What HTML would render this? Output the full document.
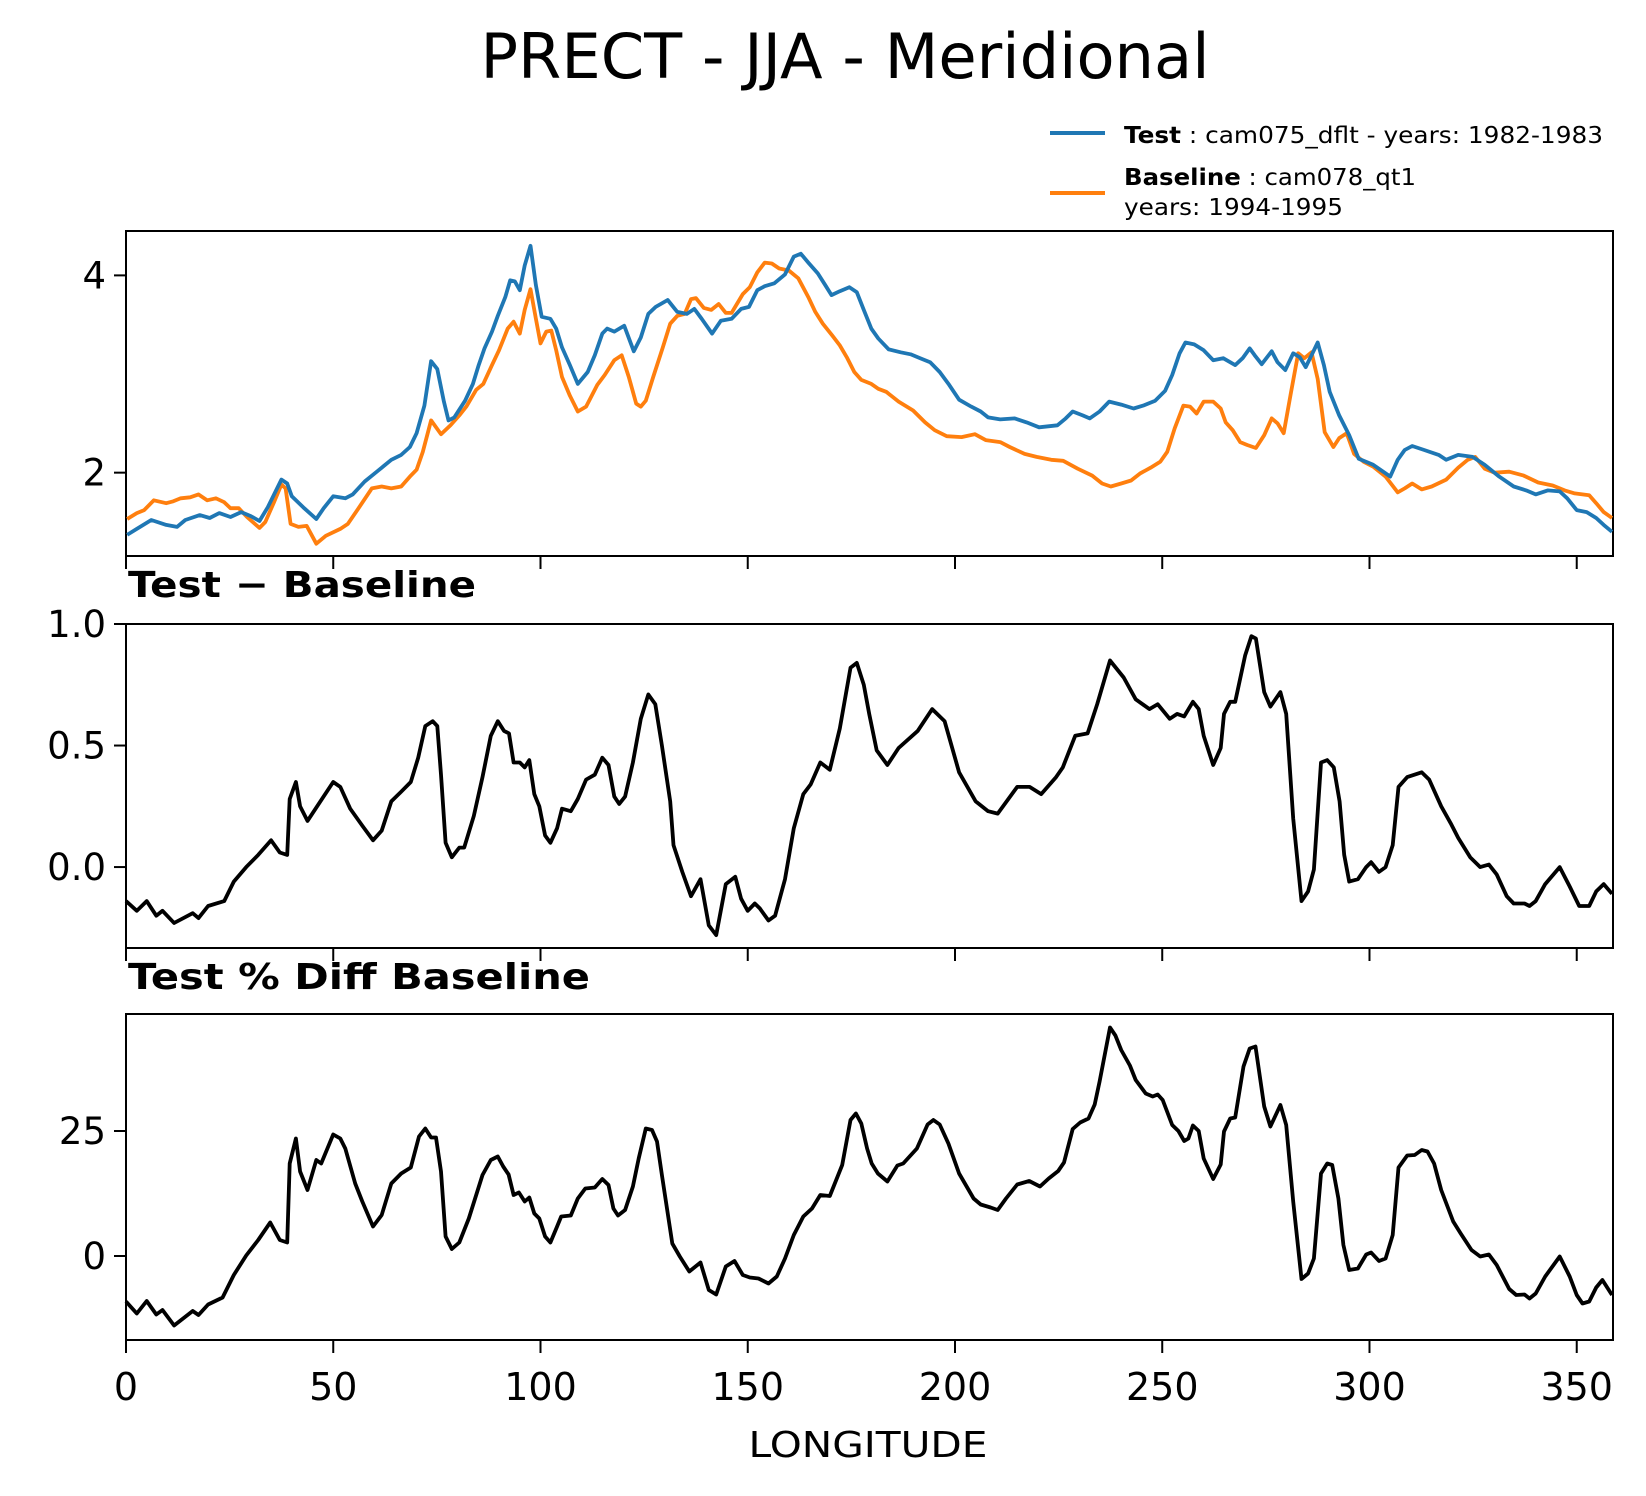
<!DOCTYPE html>
<html><head><meta charset="utf-8">
<style>
html,body{margin:0;padding:0;background:#fff;}
svg{display:block;font-family:"DejaVu Sans","Liberation Sans",sans-serif;}
</style></head>
<body>
<svg id="chart" width="1646" height="1496" viewBox="0 0 1646 1496" xmlns="http://www.w3.org/2000/svg">
<rect x="0" y="0" width="1646" height="1496" fill="#fff"/>
<text x="845" y="78" font-size="62" text-anchor="middle" fill="#000" textLength="729" lengthAdjust="spacingAndGlyphs">PRECT - JJA - Meridional</text>
<g>
  <line x1="1050" y1="133" x2="1105" y2="133" stroke="#1f77b4" stroke-width="4"/>
  <text x="1124" y="143" font-size="23" fill="#000" textLength="479" lengthAdjust="spacingAndGlyphs"><tspan font-weight="bold">Test</tspan> : cam075_dflt - years: 1982-1983</text>
  <line x1="1050" y1="193" x2="1105" y2="193" stroke="#ff7f0e" stroke-width="4"/>
  <text x="1124" y="185" font-size="23" fill="#000" textLength="292" lengthAdjust="spacingAndGlyphs"><tspan font-weight="bold">Baseline</tspan> : cam078_qt1</text>
  <text x="1124" y="215" font-size="23" fill="#000" textLength="219" lengthAdjust="spacingAndGlyphs">years: 1994-1995</text>
</g>
<text x="128" y="597" font-size="36" font-weight="bold" fill="#000" textLength="348" lengthAdjust="spacingAndGlyphs">Test − Baseline</text>
<text x="128" y="989" font-size="36" font-weight="bold" fill="#000" textLength="462" lengthAdjust="spacingAndGlyphs">Test % Diff Baseline</text>
<text x="868" y="1457" font-size="36" text-anchor="middle" fill="#000" textLength="239" lengthAdjust="spacingAndGlyphs">LONGITUDE</text>
</svg>
<script>
const testLon=[0.3,2.6,6.1,9.7,12.3,14.3,17.8,20.2,22.5,25.2,27.8,30.1,32.2,34.2,37.5,38.9,40,43,45.9,47.7,50,52.9,54.7,57.6,60.5,64,66.4,68.5,70.1,72,73.6,75.1,76.7,77.8,79.2,81.8,83.7,85.1,86.5,88.3,89.7,91.5,92.7,93.8,95,96.2,97.6,98.9,100.3,102.4,103.8,105.2,107.1,109,111.4,113.1,114.9,116.1,117.8,120.2,122.5,124.2,126,127.8,130.7,133,135.3,137.1,138.9,141.4,143.5,146.1,148.4,150.3,152.3,154.1,156.4,159,161.1,162.8,164.6,166.9,168.7,170.2,172.2,174.5,176.3,178,179.8,181.5,184,186.9,189.3,191.6,194,196.3,198.6,201,203.9,206.2,208,210.9,214.4,217.3,220.3,224.7,226.7,228.4,230.8,232.5,234.9,237.2,240.1,243.1,245.4,248.3,250.7,252.4,254.2,255.6,257.7,260,262.3,264.7,267.6,269.4,271.1,272.3,274,276.4,277.8,279.7,281.6,283.2,284.6,286,287.5,289,290.4,292.7,295.1,297.4,300.9,303.3,305,306.8,308.5,310.3,313.2,316.7,318.5,321.4,324.9,327.8,331.3,334.8,337.8,340.1,343,345.9,347.7,350,352.4,354.7,356.5,358.5];
const testVal=[1.37,1.43,1.52,1.47,1.45,1.52,1.57,1.54,1.59,1.55,1.60,1.56,1.51,1.65,1.93,1.89,1.76,1.64,1.53,1.64,1.76,1.74,1.78,1.91,2.01,2.13,2.18,2.26,2.40,2.68,3.13,3.05,2.72,2.53,2.56,2.73,2.90,3.09,3.26,3.43,3.59,3.78,3.95,3.94,3.85,4.10,4.30,3.90,3.58,3.56,3.46,3.27,3.09,2.90,3.02,3.19,3.41,3.46,3.43,3.49,3.23,3.37,3.61,3.68,3.75,3.63,3.61,3.66,3.56,3.41,3.54,3.56,3.66,3.68,3.85,3.89,3.92,4.01,4.19,4.22,4.13,4.02,3.90,3.80,3.84,3.88,3.83,3.65,3.46,3.36,3.25,3.22,3.20,3.16,3.12,3.02,2.89,2.74,2.67,2.62,2.56,2.54,2.55,2.51,2.46,2.48,2.55,2.62,2.58,2.55,2.62,2.72,2.69,2.65,2.68,2.73,2.83,2.99,3.21,3.32,3.30,3.24,3.14,3.16,3.09,3.16,3.26,3.19,3.10,3.23,3.12,3.04,3.21,3.17,3.07,3.19,3.32,3.09,2.82,2.58,2.38,2.14,2.08,2.01,1.96,2.13,2.23,2.27,2.23,2.18,2.13,2.18,2.16,2.08,1.96,1.86,1.82,1.78,1.82,1.81,1.74,1.62,1.60,1.54,1.47,1.40];
const baseLon=[0.3,2.6,4.4,6.7,9.7,11.4,13.2,15.5,17.5,19.6,21.7,23.7,25.2,27.2,29.2,32.2,33.6,35.7,37.5,38.5,39.7,41.6,43.6,45.9,48.2,51.7,53.5,55.8,59.3,61.7,64,66.4,68.5,70.1,71.6,73.6,76,78.3,80.4,82.1,84.5,86.2,88.3,90,92.1,93.5,95,96.2,97.6,98.9,100,101.4,102.6,103.8,105.2,107.1,109,111,113.7,115.5,117.8,119.6,121.3,123.1,124.2,125.4,127.2,129.5,131.3,133,134.8,136.3,137.5,139.4,141.2,143,144.7,146.1,148.8,150.5,152.3,154.1,155.8,157.6,159.9,162.2,164.6,166.3,168.1,170.4,172.2,173.9,175.7,177.4,179.8,181.5,183.4,186.4,189.9,192.8,195.1,198,201.6,204.8,207.4,210.9,213.2,216.8,219.7,223.2,226.1,229.6,233.1,235.5,237.6,240.1,242.5,244.6,247.2,249.5,251.2,253,255.1,256.7,258.3,260,262.3,264.1,265.3,267,268.8,270.5,272.6,274.6,276.4,277.8,279.3,281.1,282.8,284.3,286,287.5,289.2,291.3,292.7,294.5,296.3,298.6,300.9,303.9,306.8,308.5,310.3,312.6,315,318.5,321.4,323.7,325.5,327.8,330.2,333.7,337.2,340.7,344.2,347.1,349.5,353,354.7,356.5,358.5];
const baseVal=[1.53,1.59,1.62,1.72,1.69,1.71,1.74,1.75,1.78,1.72,1.74,1.70,1.64,1.64,1.55,1.44,1.50,1.70,1.88,1.84,1.48,1.45,1.46,1.28,1.36,1.43,1.48,1.62,1.84,1.86,1.84,1.86,1.96,2.03,2.21,2.53,2.39,2.48,2.58,2.67,2.84,2.90,3.09,3.24,3.46,3.53,3.41,3.65,3.86,3.56,3.31,3.43,3.44,3.24,2.97,2.78,2.62,2.67,2.89,2.99,3.14,3.19,2.97,2.70,2.67,2.73,2.97,3.27,3.51,3.59,3.61,3.76,3.77,3.67,3.65,3.71,3.62,3.62,3.81,3.88,4.03,4.13,4.12,4.07,4.05,3.97,3.78,3.63,3.51,3.39,3.29,3.17,3.02,2.94,2.90,2.85,2.82,2.72,2.63,2.51,2.43,2.37,2.36,2.39,2.33,2.31,2.26,2.19,2.16,2.13,2.12,2.04,1.97,1.89,1.86,1.89,1.92,1.99,2.05,2.11,2.21,2.45,2.68,2.67,2.60,2.72,2.72,2.65,2.51,2.43,2.31,2.28,2.25,2.38,2.55,2.50,2.40,2.82,3.21,3.16,3.22,2.95,2.41,2.26,2.35,2.40,2.19,2.11,2.06,1.96,1.80,1.84,1.89,1.83,1.86,1.93,2.05,2.13,2.16,2.04,2.00,2.01,1.97,1.90,1.87,1.82,1.79,1.77,1.69,1.60,1.54];
const diffLon=[0,2.6,5,7.3,8.8,11.6,16.1,17.5,19.8,23.7,26,29,31.9,35,37.1,38.9,39.5,41,42,43.8,46.5,50,51.7,54.1,57,59.6,61.7,64,66.4,68.7,70.5,72.2,74,75.1,76,77.1,78.6,80.4,81.6,83.9,86,88,89.7,91.2,92.4,93.5,95,96.2,97.3,98.5,99.7,101.1,102.4,104,105.2,107.3,109,111,113.1,114.9,116.4,117.8,119,120.4,122.3,124.2,126,127.7,129.3,131.3,132.1,134.2,136.3,138.6,140.6,142.4,144.7,147,148.4,150,151.7,152.9,155,156.6,159,161.1,163.4,165.2,167.5,169.8,172.2,174.8,176.3,178,179.3,181.1,183.7,186.4,191,194.5,197.5,201,205,208,210.3,215,218,220.8,224.4,226,229,232,234.3,237.4,240.7,243.6,246.9,248.9,251.8,253.6,255.3,257.4,258.8,260,262.3,264.1,264.9,266.4,267.6,270,271.5,272.6,274.6,276.1,278.5,279.9,281.6,283.6,285.2,286.6,288.3,289.8,291.4,292.8,293.9,295.1,297.2,299.2,300.4,302.3,303.9,305.6,307,309.1,312.6,314.4,317.3,319.6,321.4,324.3,326.7,328.8,330.7,333.1,334.8,337.4,338.6,340.1,342.4,345.9,348.3,350.6,353,354.7,356.5,358.5];
const diffVal=[-0.14,-0.18,-0.14,-0.20,-0.18,-0.23,-0.19,-0.21,-0.16,-0.14,-0.06,0.0,0.05,0.11,0.06,0.05,0.28,0.35,0.25,0.19,0.26,0.35,0.33,0.24,0.17,0.11,0.15,0.27,0.31,0.35,0.45,0.58,0.60,0.58,0.38,0.10,0.04,0.08,0.08,0.21,0.37,0.54,0.60,0.56,0.55,0.43,0.43,0.41,0.44,0.30,0.25,0.13,0.10,0.16,0.24,0.23,0.28,0.36,0.38,0.45,0.42,0.29,0.26,0.29,0.43,0.61,0.71,0.67,0.50,0.27,0.09,-0.02,-0.12,-0.05,-0.24,-0.28,-0.07,-0.04,-0.13,-0.18,-0.15,-0.17,-0.22,-0.20,-0.05,0.16,0.30,0.34,0.43,0.40,0.57,0.82,0.84,0.75,0.63,0.48,0.42,0.49,0.56,0.65,0.60,0.39,0.27,0.23,0.22,0.33,0.33,0.30,0.37,0.41,0.54,0.55,0.67,0.85,0.78,0.69,0.65,0.67,0.61,0.63,0.62,0.68,0.65,0.54,0.42,0.49,0.63,0.68,0.68,0.87,0.95,0.94,0.72,0.66,0.72,0.63,0.20,-0.14,-0.10,-0.01,0.43,0.44,0.41,0.27,0.05,-0.06,-0.05,0.0,0.02,-0.02,0.0,0.09,0.33,0.37,0.39,0.36,0.25,0.18,0.12,0.04,0.0,0.01,-0.03,-0.12,-0.15,-0.15,-0.16,-0.14,-0.07,0.0,-0.08,-0.16,-0.16,-0.10,-0.07,-0.11];
const pctLon=[0,2.6,5,7.3,8.8,11.6,16.1,17.5,19.8,23.3,26,29,31.9,34.8,37.1,38.9,39.5,41,42,43.8,45.9,47.1,50,51.7,52.9,55.3,57,59.6,61.7,64,66.4,68.7,70.7,72.2,73.6,74.8,76,77.1,78.6,80.4,82.7,86,88,89.7,91,92.3,93.5,94.8,96.2,97.3,98.5,99.7,101.1,102.4,104,105,107.3,109,110.8,113.1,114.9,116.4,117.6,118.7,120.4,122.3,123.7,125.4,126.9,128.1,129.3,131.8,133.6,135.9,138.6,140.6,142.4,144.7,146.8,148.8,150.5,152.6,155,157,159,161.1,163.4,165.5,167.5,169.8,172.8,174.8,176.1,177.4,178.8,179.9,181.4,183.7,186.1,187.5,190.8,193.4,194.8,196.3,198.4,201,204.5,206.2,208.6,210.3,212.3,215,217.9,220.5,222.6,224.9,226.3,228.4,230.2,232.2,233.7,234.9,237.4,238.7,240.1,242.2,243.6,246,247.7,248.9,250.1,252.4,253.9,255.3,256.3,257.4,258.8,260,262.3,264.1,264.9,266.4,267.6,269.6,271.1,272.5,274.6,276.1,278.5,279.9,281.6,283.6,285.2,286.6,288.3,289.8,291,292.5,293.7,295.1,297.2,299.2,300.4,302.3,303.9,305.6,307,309.1,310.9,312.6,314,315.6,317.3,320.2,322,324.6,326.7,328.8,330.7,333.7,335.4,337.4,338.6,340.1,342.4,345.9,348.3,350,351.4,353,354.7,356.2,358.5];
const pctVal=[-9.1,-11.5,-9,-11.7,-10.8,-13.9,-11,-11.8,-9.7,-8.3,-3.8,0.1,3.2,6.7,3.2,2.7,18.5,23.5,16.9,13.2,19.2,18.5,24.3,23.5,21.5,14.5,10.9,5.9,8.2,14.5,16.5,17.7,23.9,25.5,23.7,23.7,16.9,3.9,1.4,2.7,7.5,16.2,19.2,19.9,17.9,16.3,12.2,12.7,10.9,11.7,8.5,7.5,3.9,2.7,5.9,7.9,8.1,11.5,13.5,13.7,15.4,14.2,9.5,8.1,9.2,13.9,19.5,25.5,25.2,22.9,16.2,2.5,-0.1,-3.1,-1.3,-6.8,-7.7,-2.1,-1,-3.8,-4.3,-4.5,-5.5,-4.1,-0.5,4.2,7.9,9.5,12.2,12,18.2,27.2,28.5,26.5,21.5,18.5,16.5,14.9,18.1,18.5,21.5,26.3,27.2,26.3,22.5,16.5,11.5,10.3,9.7,9.2,11.5,14.3,15,13.9,15.5,17,18.7,25.4,26.7,27.5,30.3,34.9,45.7,44.1,41.2,38.1,35.2,32.5,31.9,32.3,31.2,26.2,25,23,23.5,26.1,25,19.5,15.4,18.3,24.9,27.5,27.7,37.9,41.5,41.9,29.9,25.9,30.2,26.2,10.9,-4.6,-3.5,-0.5,16.5,18.5,18.2,11.5,2.2,-2.8,-2.5,0.3,0.7,-1,-0.5,4.2,17.7,20.1,20.2,21.2,20.9,18.5,13.2,6.9,4.5,1.2,-0.1,0.3,-1.8,-6.6,-7.8,-7.7,-8.5,-7.5,-4.1,-0.1,-4.1,-7.8,-9.5,-9.1,-6.3,-4.8,-7.8];
const xTicks=[0,50,100,150,200,250,300,350];
const p1Ticks=[2,4];
const p2Ticks=[0.0,0.5,1.0];
const p2TickLabels=["0.0","0.5","1.0"];
const p3Ticks=[0,25];

const NS="http://www.w3.org/2000/svg";
const svg=document.getElementById('chart');
const X0=126,X1=1613,XMIN=0,XMAX=358.75;
function xs(v){return X0+(v-XMIN)/(XMAX-XMIN)*(X1-X0);}
function mk(tag,attrs){const e=document.createElementNS(NS,tag);for(const k in attrs)e.setAttribute(k,attrs[k]);svg.appendChild(e);return e;}
function ysFactory(top,bot,ymin,ymax){return v=>bot-(v-ymin)/(ymax-ymin)*(bot-top);}

function panel(name,top,bot,ymin,ymax,yt,ytl,showX){
  const ys=ysFactory(top,bot,ymin,ymax);
  const fr=mk('rect',{x:X0,y:top,width:X1-X0,height:bot-top,fill:'none',stroke:'#000','stroke-width':2});
  
  
  yt.forEach((t,i)=>{
    const y=ys(t);
    const tk=mk('line',{x1:X0-12,y1:y,x2:X0,y2:y,stroke:'#000','stroke-width':2});
    
    
    const tl=mk('text',{x:X0-20,y:y+13,'font-size':37,'text-anchor':'end',fill:'#000'});
    
    
    tl.textContent=ytl?ytl[i]:String(t);
  });
  xTicks.forEach(t=>{
    const x=xs(t);
    const tk=mk('line',{x1:x,y1:bot,x2:x,y2:bot+13,stroke:'#000','stroke-width':2});
    
    
    if(showX){
      const tl=mk('text',{x:x,y:bot+60,'font-size':38,'text-anchor':'middle',fill:'#000'});
      
      
      tl.textContent=String(t);
    }
  });
  return ys;
}
function series(name,lons,vals,ys,color){
  let d='';
  for(let i=0;i<lons.length;i++){d+=(i?'L':'M')+xs(lons[i]).toFixed(1)+','+ys(vals[i]).toFixed(1);}
  const p=mk('path',{d:d,fill:'none',stroke:color,'stroke-width':3.8,'stroke-linejoin':'round'});
  
  
}
const ys1=panel('climatology-panel',231,556,1.155,4.45,p1Ticks,null,false);
series('baseline-line',baseLon,baseVal,ys1,'#ff7f0e');
series('test-line',testLon,testVal,ys1,'#1f77b4');
const ys2=panel('diff-panel',624,948,-0.333,1.0,p2Ticks,p2TickLabels,false);
series('diff-line',diffLon,diffVal,ys2,'#000');
const ys3=panel('pctdiff-panel',1014,1340,-16.8,48.4,p3Ticks,null,true);
series('pctdiff-line',pctLon,pctVal,ys3,'#000');
</script>
</body></html>
